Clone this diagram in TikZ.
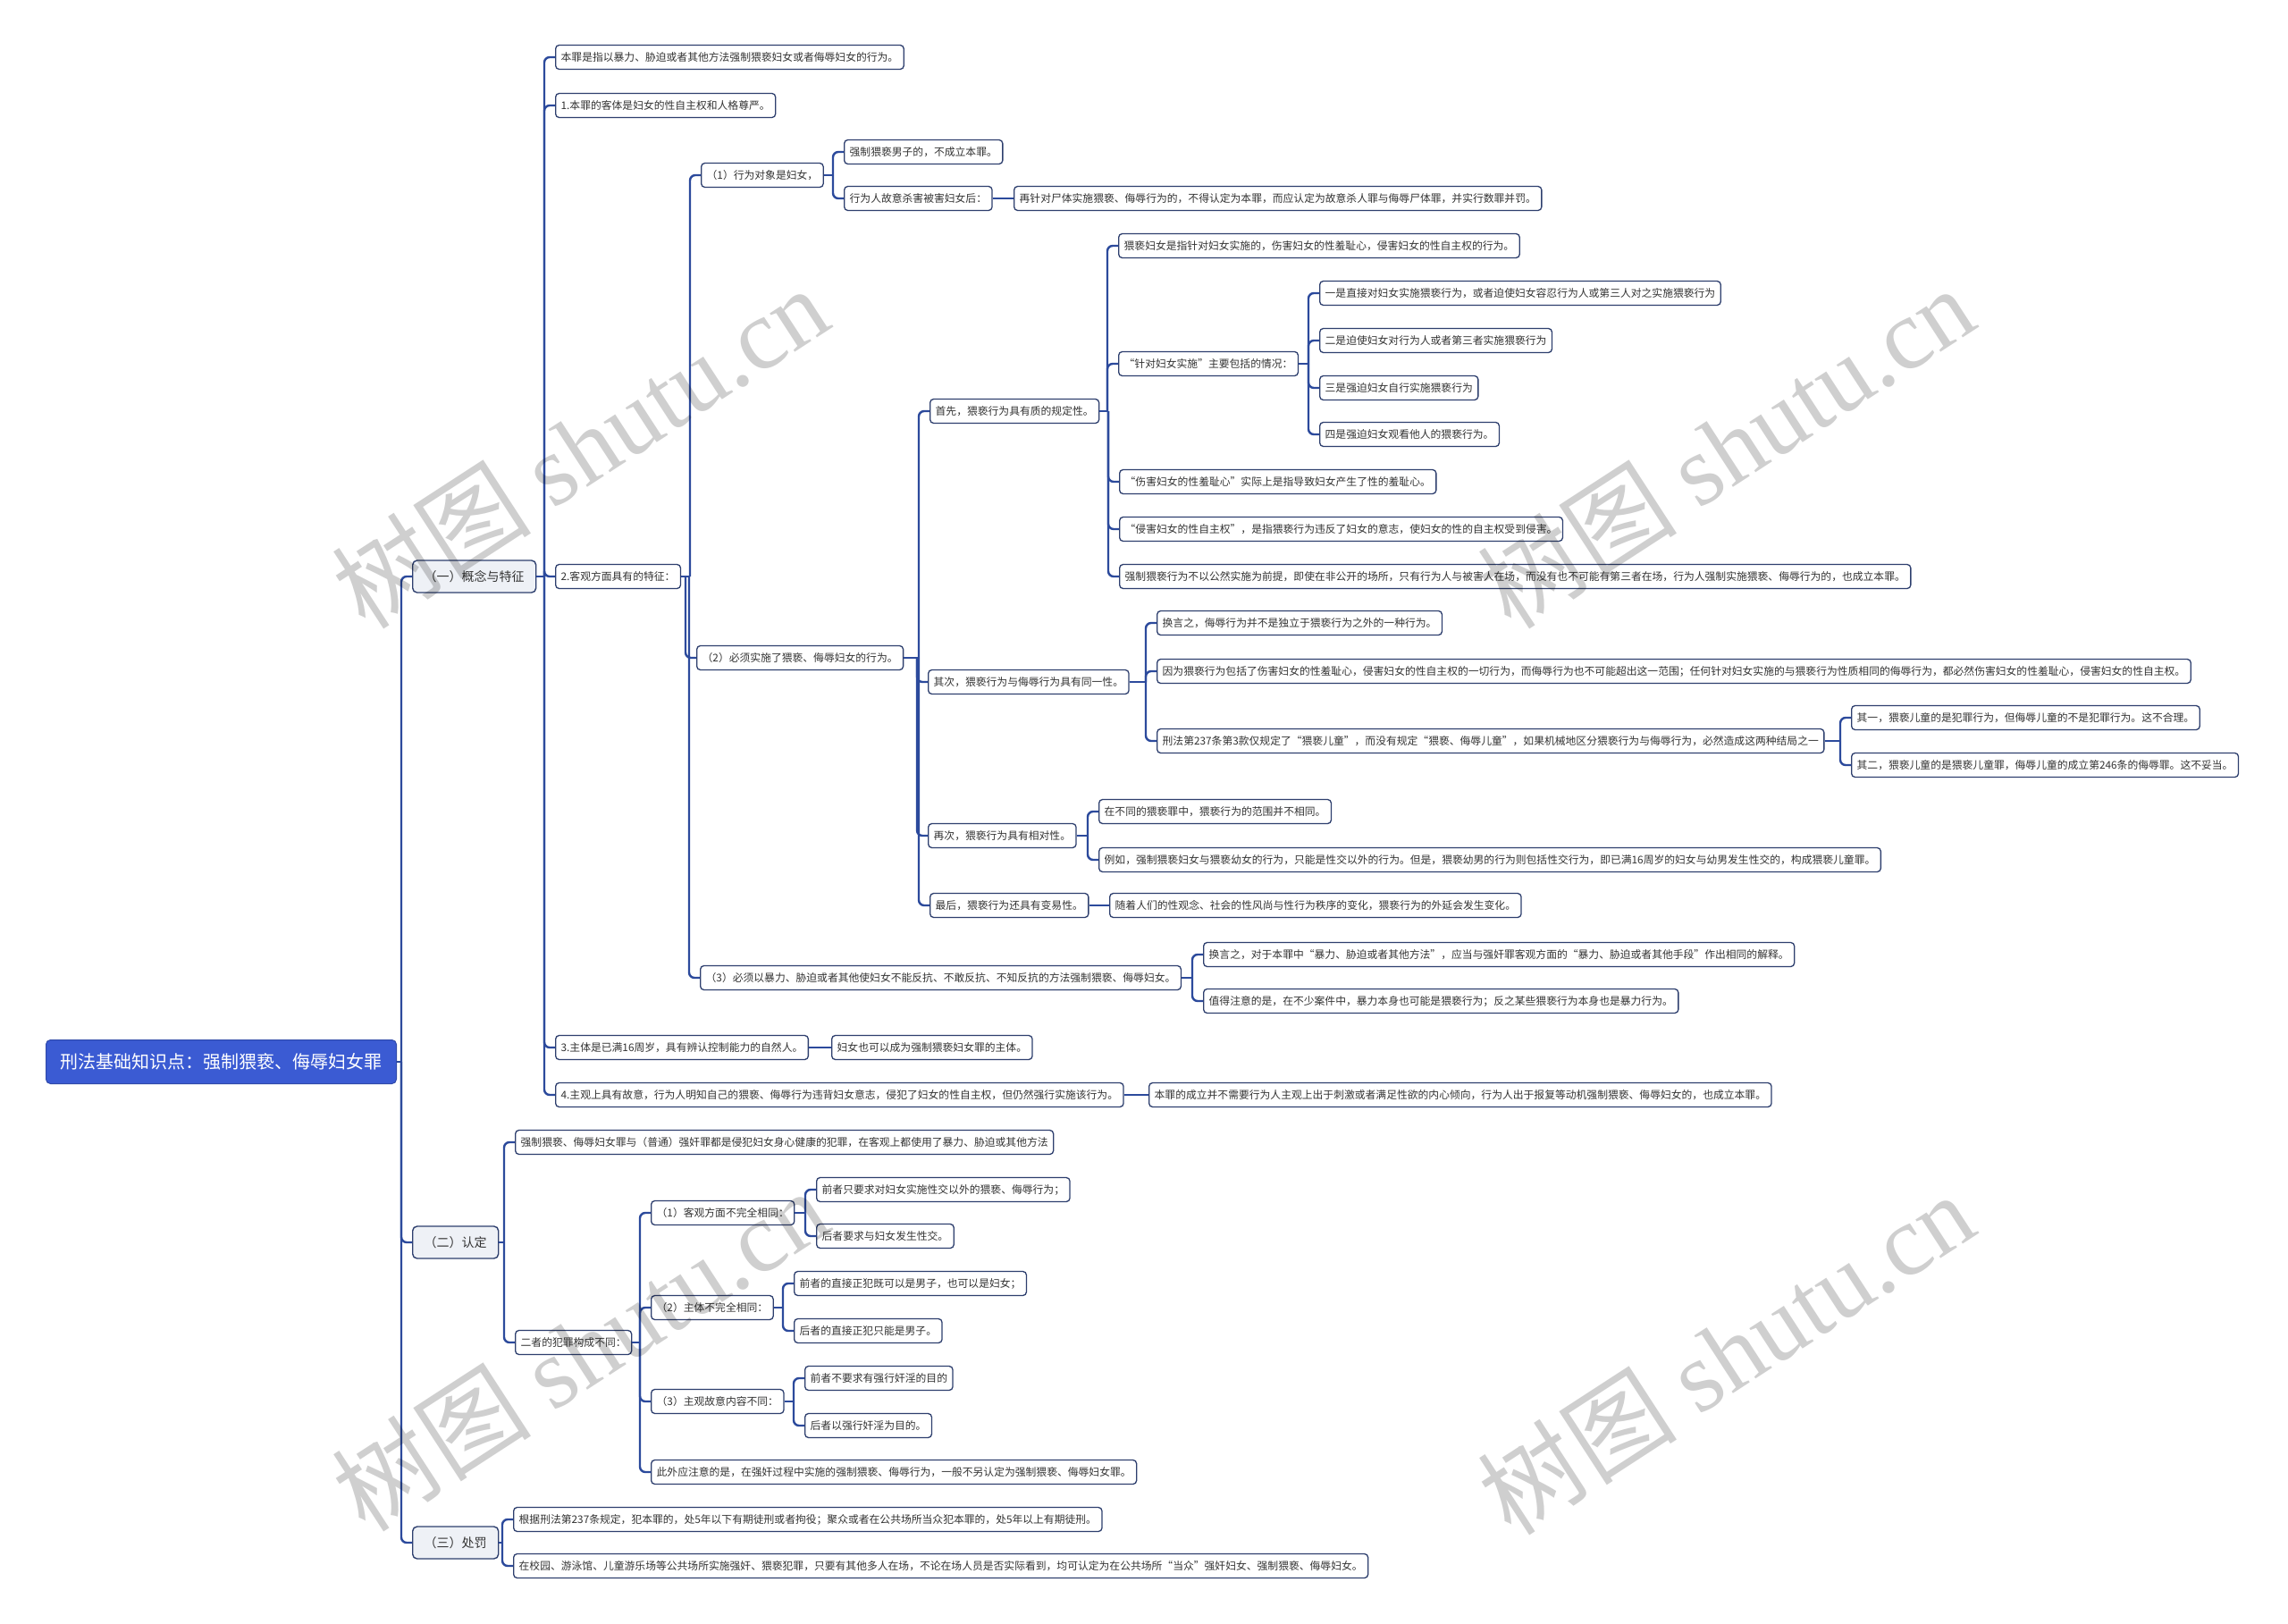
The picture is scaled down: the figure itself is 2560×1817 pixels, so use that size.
\documentclass[tikz,border=0pt]{standalone}
\usepackage{fontspec}
\setmainfont{Noto Sans CJK SC}
\newfontfamily\wmlatin{Liberation Serif}
\usetikzlibrary{calc}
\definecolor{linec}{HTML}{2C4A9C}
\definecolor{boxc}{HTML}{2E3F6E}
\definecolor{rootc}{HTML}{3B5BD3}
\definecolor{lvlc}{HTML}{EEF1F6}
\definecolor{txtc}{HTML}{333333}
\tikzset{
  conn/.style={draw=linec,line width=2.4pt},
  leaf/.style={draw=boxc,fill=white,rounded corners=4pt,line width=1.3pt,inner xsep=6pt,inner ysep=0pt,minimum height=27pt,anchor=west,text=txtc,font=\fontsize{11.8}{14}\selectfont},
  lvlone/.style={draw=boxc,fill=lvlc,rounded corners=5pt,line width=1.4pt,inner xsep=13pt,inner ysep=0pt,minimum height=36pt,anchor=west,text=txtc,font=\fontsize{14}{17}\selectfont},
  rootbox/.style={fill=rootc,draw=rootc!80!black,rounded corners=5pt,line width=1pt,inner xsep=16pt,inner ysep=0pt,minimum height=49pt,anchor=west,text=white,font=\fontsize{20}{24}\selectfont},
  wm/.style={text=black,opacity=0.19,rotate=33,font=\fontsize{112}{120}\selectfont}
}
\newcommand\link[2]{%
  \path (#2.west) ++(-12,0) coordinate (tmpt);
  \draw[conn] (#1.east) -- (tmpt |- #1.east);
  \draw[conn,rounded corners=6pt] (tmpt |- #1.east) |- (#2.west);}
\newcommand\slink[2]{\draw[conn] (#1.east) -- (#2.west);}
\begin{document}
\begin{tikzpicture}[x=1pt,y=-1pt]
\useasboundingbox (0,0) rectangle (2560,1817);
\fill[white] (0,0) rectangle (2560,1817);
% root and level 1
\node[rootbox] (root) at (51,1188) {刑法基础知识点：强制猥亵、侮辱妇女罪};
\node[lvlone] (a1) at (461,645) {（一）概念与特征};
\node[lvlone] (a2) at (461,1390) {（二）认定};
\node[lvlone] (a3) at (461,1726) {（三）处罚};
% (一)
\node[leaf] (b1) at (621,64) {本罪是指以暴力、胁迫或者其他方法强制猥亵妇女或者侮辱妇女的行为。};
\node[leaf] (b2) at (621,118) {1.本罪的客体是妇女的性自主权和人格尊严。};
\node[leaf] (b3) at (621,645) {2.客观方面具有的特征：};
\node[leaf] (b4) at (621,1172) {3.主体是已满16周岁，具有辨认控制能力的自然人。};
\node[leaf] (b4c) at (930,1172) {妇女也可以成为强制猥亵妇女罪的主体。};
\node[leaf] (b5) at (621,1225) {4.主观上具有故意，行为人明知自己的猥亵、侮辱行为违背妇女意志，侵犯了妇女的性自主权，但仍然强行实施该行为。};
\node[leaf] (b5c) at (1285,1225) {本罪的成立并不需要行为人主观上出于刺激或者满足性欲的内心倾向，行为人出于报复等动机强制猥亵、侮辱妇女的，也成立本罪。};
\node[leaf] (c1) at (784,196) {（1）行为对象是妇女，};
\node[leaf] (d1) at (944,170) {强制猥亵男子的，不成立本罪。};
\node[leaf] (d2) at (944,222) {行为人故意杀害被害妇女后：};
\node[leaf] (e1) at (1134,222) {再针对尸体实施猥亵、侮辱行为的，不得认定为本罪，而应认定为故意杀人罪与侮辱尸体罪，并实行数罪并罚。};
\node[leaf] (c2) at (779,736) {（2）必须实施了猥亵、侮辱妇女的行为。};
\node[leaf] (f1) at (1040,460) {首先，猥亵行为具有质的规定性。};
\node[leaf] (g1) at (1251,275) {猥亵妇女是指针对妇女实施的，伤害妇女的性羞耻心，侵害妇女的性自主权的行为。};
\node[leaf] (g2) at (1251,407) {“针对妇女实施”主要包括的情况：};
\node[leaf] (h1) at (1476,328) {一是直接对妇女实施猥亵行为，或者迫使妇女容忍行为人或第三人对之实施猥亵行为};
\node[leaf] (h2) at (1476,381) {二是迫使妇女对行为人或者第三者实施猥亵行为};
\node[leaf] (h3) at (1476,434) {三是强迫妇女自行实施猥亵行为};
\node[leaf] (h4) at (1476,486) {四是强迫妇女观看他人的猥亵行为。};
\node[leaf] (g3) at (1252,539) {“伤害妇女的性羞耻心”实际上是指导致妇女产生了性的羞耻心。};
\node[leaf] (g4) at (1252,592) {“侵害妇女的性自主权”，是指猥亵行为违反了妇女的意志，使妇女的性的自主权受到侵害。};
\node[leaf] (g5) at (1252,645) {强制猥亵行为不以公然实施为前提，即使在非公开的场所，只有行为人与被害人在场，而没有也不可能有第三者在场，行为人强制实施猥亵、侮辱行为的，也成立本罪。};
\node[leaf] (f2) at (1038,763) {其次，猥亵行为与侮辱行为具有同一性。};
\node[leaf] (i1) at (1294,697) {换言之，侮辱行为并不是独立于猥亵行为之外的一种行为。};
\node[leaf] (i2) at (1294,751) {因为猥亵行为包括了伤害妇女的性羞耻心，侵害妇女的性自主权的一切行为，而侮辱行为也不可能超出这一范围；任何针对妇女实施的与猥亵行为性质相同的侮辱行为，都必然伤害妇女的性羞耻心，侵害妇女的性自主权。};
\node[leaf] (i3) at (1294,829) {刑法第237条第3款仅规定了“猥亵儿童”，而没有规定“猥亵、侮辱儿童”，如果机械地区分猥亵行为与侮辱行为，必然造成这两种结局之一};
\node[leaf] (j1) at (2071,803) {其一，猥亵儿童的是犯罪行为，但侮辱儿童的不是犯罪行为。这不合理。};
\node[leaf] (j2) at (2071,856) {其二，猥亵儿童的是猥亵儿童罪，侮辱儿童的成立第246条的侮辱罪。这不妥当。};
\node[leaf] (f3) at (1038,935) {再次，猥亵行为具有相对性。};
\node[leaf] (k1) at (1229,908) {在不同的猥亵罪中，猥亵行为的范围并不相同。};
\node[leaf] (k2) at (1229,962) {例如，强制猥亵妇女与猥亵幼女的行为，只能是性交以外的行为。但是，猥亵幼男的行为则包括性交行为，即已满16周岁的妇女与幼男发生性交的，构成猥亵儿童罪。};
\node[leaf] (f4) at (1040,1013) {最后，猥亵行为还具有变易性。};
\node[leaf] (l1) at (1241,1013) {随着人们的性观念、社会的性风尚与性行为秩序的变化，猥亵行为的外延会发生变化。};
\node[leaf] (c3) at (783,1094) {（3）必须以暴力、胁迫或者其他使妇女不能反抗、不敢反抗、不知反抗的方法强制猥亵、侮辱妇女。};
\node[leaf] (c3a) at (1346,1068) {换言之，对于本罪中“暴力、胁迫或者其他方法”，应当与强奸罪客观方面的“暴力、胁迫或者其他手段”作出相同的解释。};
\node[leaf] (c3b) at (1346,1120) {值得注意的是，在不少案件中，暴力本身也可能是猥亵行为；反之某些猥亵行为本身也是暴力行为。};
% (二)
\node[leaf] (m1) at (576,1278) {强制猥亵、侮辱妇女罪与（普通）强奸罪都是侵犯妇女身心健康的犯罪，在客观上都使用了暴力、胁迫或其他方法};
\node[leaf] (m2) at (576,1502) {二者的犯罪构成不同：};
\node[leaf] (n1) at (728,1357) {（1）客观方面不完全相同：};
\node[leaf] (o1) at (913,1331) {前者只要求对妇女实施性交以外的猥亵、侮辱行为；};
\node[leaf] (o2) at (913,1383) {后者要求与妇女发生性交。};
\node[leaf] (n2) at (728,1463) {（2）主体不完全相同：};
\node[leaf] (o3) at (888,1436) {前者的直接正犯既可以是男子，也可以是妇女；};
\node[leaf] (o4) at (888,1489) {后者的直接正犯只能是男子。};
\node[leaf] (n3) at (728,1568) {（3）主观故意内容不同：};
\node[leaf] (o5) at (900,1542) {前者不要求有强行奸淫的目的};
\node[leaf] (o6) at (900,1595) {后者以强行奸淫为目的。};
\node[leaf] (n4) at (728,1647) {此外应注意的是，在强奸过程中实施的强制猥亵、侮辱行为，一般不另认定为强制猥亵、侮辱妇女罪。};
% (三)
\node[leaf] (p1) at (574,1700) {根据刑法第237条规定，犯本罪的，处5年以下有期徒刑或者拘役；聚众或者在公共场所当众犯本罪的，处5年以上有期徒刑。};
\node[leaf] (p2) at (574,1752) {在校园、游泳馆、儿童游乐场等公共场所实施强奸、猥亵犯罪，只要有其他多人在场，不论在场人员是否实际看到，均可认定为在公共场所“当众”强奸妇女、强制猥亵、侮辱妇女。};
% connectors
\link{root}{a1}\link{root}{a2}\link{root}{a3}
\link{a1}{b1}\link{a1}{b2}\link{a1}{b3}\link{a1}{b4}\link{a1}{b5}
\slink{b4}{b4c}\slink{b5}{b5c}
\link{b3}{c1}\link{b3}{c2}\link{b3}{c3}
\link{c1}{d1}\link{c1}{d2}\slink{d2}{e1}
\link{c2}{f1}\link{c2}{f2}\link{c2}{f3}\link{c2}{f4}
\link{f1}{g1}\link{f1}{g2}\link{f1}{g3}\link{f1}{g4}\link{f1}{g5}
\link{g2}{h1}\link{g2}{h2}\link{g2}{h3}\link{g2}{h4}
\link{f2}{i1}\link{f2}{i2}\link{f2}{i3}
\link{i3}{j1}\link{i3}{j2}
\link{f3}{k1}\link{f3}{k2}
\slink{f4}{l1}
\link{c3}{c3a}\link{c3}{c3b}
\link{a2}{m1}\link{a2}{m2}
\link{m2}{n1}\link{m2}{n2}\link{m2}{n3}\link{m2}{n4}
\link{n1}{o1}\link{n1}{o2}
\link{n2}{o3}\link{n2}{o4}
\link{n3}{o5}\link{n3}{o6}
\link{a3}{p1}\link{a3}{p2}
% watermarks
\node[wm] (w1) at (649,500) {树图 {\wmlatin shutu.cn}};
\node[wm] (w2) at (1931,500) {树图 {\wmlatin shutu.cn}};
\node[wm] (w3) at (649,1510) {树图 {\wmlatin shutu.cn}};
\node[wm] (w4) at (1931,1514) {树图 {\wmlatin shutu.cn}};
\end{tikzpicture}
\end{document}
